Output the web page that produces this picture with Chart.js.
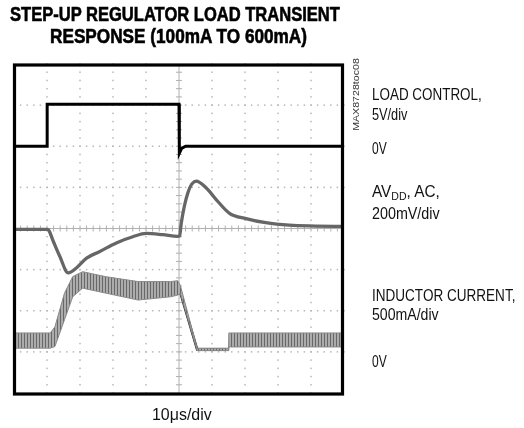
<!DOCTYPE html>
<html>
<head>
<meta charset="utf-8">
<script src="https://cdn.jsdelivr.net/npm/chart.js@4.4.0/dist/chart.umd.min.js"></script>
<style>
  body { margin: 0; background: #fff; }
  #wrap { position: relative; width: 524px; height: 428px; overflow: hidden; }
  canvas { position: absolute; left: 0; top: 0; }
  .t { position: absolute; white-space: nowrap; color: #111; font-family: "Liberation Sans", Arial, sans-serif; transform-origin: left top; }
  .title { font-weight: bold; font-size: 20px; line-height: 22px; color: #000; -webkit-text-stroke: 0.6px #000; }
  .lbl { font-size: 16px; line-height: 16px; left: 372px; }
  sub { font-size: 11px; vertical-align: -3px; line-height: 0; }
</style>
</head>
<body>
<div id="wrap">
  <canvas id="scope" width="524" height="428"></canvas>
  <div class="t title" data-w="330" style="left:10px; top:3px">STEP-UP REGULATOR LOAD TRANSIENT</div>
  <div class="t title" data-w="257" style="left:50px; top:25px">RESPONSE (100mA TO 600mA)</div>
  <div class="t lbl" data-w="110" style="top:86.5px">LOAD CONTROL,</div>
  <div class="t lbl" data-w="35" style="top:107px">5V/div</div>
  <div class="t lbl" data-w="15" style="top:141px">0V</div>
  <div class="t lbl" data-w="68" style="top:184px">AV<sub>DD</sub>, AC,</div>
  <div class="t lbl" data-w="68" style="top:206px">200mV/div</div>
  <div class="t lbl" data-w="143" style="top:288px">INDUCTOR CURRENT,</div>
  <div class="t lbl" data-w="67" style="top:306.5px">500mA/div</div>
  <div class="t lbl" data-w="15" style="top:354px">0V</div>
  <div class="t" data-w="60" style="left:152px; top:406px; font-size:17px; line-height:17px;">10μs/div</div>
  <div class="t" style="left:324px; top:90px; width:64px; text-align:center; font-size:8.5px; line-height:9px; color:#333; transform-origin:center; transform: rotate(-90deg) scaleX(1.25);">MAX8728toc08</div>
</div>
<script>
// time axis in microseconds (10us/div), vertical in screen divisions (0..8)
const loadT = [0, 10, 10.05, 50, 50.1, 50.8, 52, 100];
const loadV = [6.0, 6.0, 7.02, 7.02, 5.83, 5.95, 6.0, 6.0];

const avddT = [0, 10, 10.4, 11.9, 13.9, 16.4, 18.9, 22.0, 26.0, 31.0, 36.0, 40.1, 45.1, 49.6, 50.2,
               50.7, 52.7, 55.2, 58.2, 61.2, 65.3, 70.3, 76.3, 83.4, 91.4, 100];
const avddV = [3.98, 3.98, 3.97, 3.69, 3.32, 2.92, 3.04, 3.28, 3.44, 3.65, 3.80, 3.88, 3.85, 3.81, 3.82,
               4.14, 4.87, 5.15, 4.99, 4.71, 4.37, 4.24, 4.14, 4.08, 4.06, 4.05];

// inductor current ripple band: upper and lower envelope
const indT  = [0, 11, 12.4, 15.3, 17.8, 20.8, 27.7, 37.6, 47.5, 49.6, 50.4, 55.5, 64.9, 65.1, 100];
const indHi = [1.46, 1.46, 1.61, 2.43, 2.83, 2.95, 2.83, 2.71, 2.71, 2.73, 2.62, 1.09, 1.09, 1.46, 1.46];
const indLo = [1.09, 1.09, 1.13, 1.78, 2.34, 2.55, 2.43, 2.26, 2.34, 2.38, 2.42, 1.03, 1.03, 1.12, 1.12];

// clean part of the inductor trace (fall and zero current)
const zeroT = [50.0, 55.5, 64.9];
const zeroV = [2.55, 1.06, 1.06];

const pts = (xs, ys) => xs.map((x, i) => ({ x: x, y: ys[i] }));

// squeeze the label text to the condensed widths of the original
document.querySelectorAll('[data-w]').forEach(el => {
    el.style.transform = 'scaleX(' + (el.dataset.w / el.scrollWidth) + ')';
});

// striped fill for the noisy ripple band
const pc = document.createElement('canvas');
pc.width = 3; pc.height = 6;
const pctx = pc.getContext('2d');
pctx.fillStyle = '#acacac';
pctx.fillRect(0, 0, 3, 6);
pctx.fillStyle = '#686868';
pctx.fillRect(0, 0, 1, 6);
const ctxS = document.getElementById('scope').getContext('2d');
const ripple = ctxS.createPattern(pc, 'repeat');

// graticule: dotted grid, centre lines with ticks, thick frame
const graticule = {
    id: 'graticule',
    beforeDatasetsDraw(chart) {
        const { ctx, chartArea: a, scales: { x, y } } = chart;
        ctx.save();
        ctx.fillStyle = '#b8b8b8';
        for (let i = 1; i < 10; i++) {
            if (i === 5) continue;
            const px = x.getPixelForValue(i * 10);
            for (let k = 0; k <= 40; k++) {
                ctx.fillRect(px - 0.75, y.getPixelForValue(k * 0.2) - 0.75, 1.5, 1.5);
            }
        }
        for (let j = 1; j < 8; j++) {
            if (j === 4) continue;
            const py = y.getPixelForValue(j);
            for (let k = 0; k <= 50; k++) {
                ctx.fillRect(x.getPixelForValue(k * 2) - 0.75, py - 0.75, 1.5, 1.5);
            }
        }
        // centre cross with minor ticks
        const cx = x.getPixelForValue(50), cy = y.getPixelForValue(4);
        ctx.strokeStyle = '#b0b0b0';
        ctx.lineWidth = 1;
        ctx.beginPath();
        ctx.moveTo(a.left, cy); ctx.lineTo(a.right, cy);
        ctx.moveTo(cx, a.top); ctx.lineTo(cx, a.bottom);
        for (let k = 1; k < 50; k++) {
            const px = x.getPixelForValue(k * 2);
            ctx.moveTo(px, cy - 3); ctx.lineTo(px, cy + 3);
        }
        for (let k = 1; k < 40; k++) {
            const py = y.getPixelForValue(k * 0.2);
            ctx.moveTo(cx - 3, py); ctx.lineTo(cx + 3, py);
        }
        ctx.stroke();
        ctx.restore();
    },
    afterDatasetsDraw(chart) {
        const { ctx, chartArea: a } = chart;
        ctx.save();
        ctx.strokeStyle = '#000';
        ctx.lineWidth = 3.2;
        ctx.strokeRect(a.left + 0.5, a.top + 1, a.right - a.left - 2, a.bottom - a.top);
        ctx.restore();
    }
};

new Chart(ctxS, {
    type: 'line',
    data: {
        datasets: [
            { label: 'ind hi', data: pts(indT, indHi), borderColor: '#8a8a8a', borderWidth: 1, pointRadius: 0, tension: 0, fill: false },
            { label: 'ind lo', data: pts(indT, indLo), borderColor: '#8a8a8a', borderWidth: 1, pointRadius: 0, tension: 0,
              fill: '-1', backgroundColor: ripple },
            { label: 'ind zero', data: pts(zeroT, zeroV), borderColor: '#222', borderWidth: 2.5, pointRadius: 0, tension: 0 },
            { label: 'AVDD', data: pts(avddT, avddV), borderColor: '#666', borderWidth: 3.3, pointRadius: 0,
              tension: 0.3, cubicInterpolationMode: 'monotone' },
            { label: 'load', data: pts(loadT, loadV), borderColor: '#000', borderWidth: 3, pointRadius: 0, tension: 0 }
        ]
    },
    options: {
        responsive: false,
        animation: false,
        layout: { padding: { left: 14, top: 64, right: 180, bottom: 35 } },
        scales: {
            x: { type: 'linear', min: 0, max: 100, display: false },
            y: { type: 'linear', min: 0, max: 8, display: false }
        },
        plugins: { legend: { display: false }, tooltip: { enabled: false } }
    },
    plugins: [graticule]
});
</script>
</body>
</html>
